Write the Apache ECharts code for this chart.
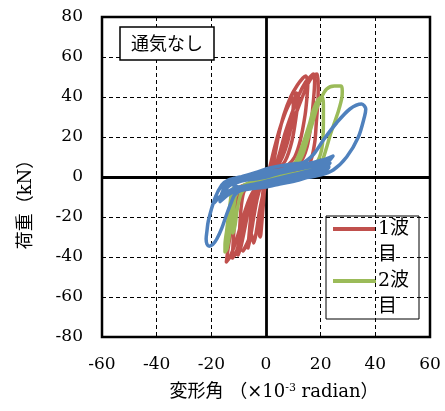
<!DOCTYPE html>
<html>
<head>
<meta charset="utf-8">
<script src="https://cdn.jsdelivr.net/npm/echarts@6/dist/echarts.min.js"></script>
<style>
html,body{margin:0;padding:0;background:#fff;}
#chart{width:445px;height:411px;}
</style>
</head>
<body>
<div id="chart"></div>
<script>
// ---- data ----
var xTicks = [-60, -40, -20, 0, 20, 40, 60];
var yTicks = [-80, -60, -40, -20, 0, 20, 40, 60, 80];
var seriesNames = ['1波目', '2波目', '3波目'];
var chartTitle = '通気なし';
var xAxisTitle = '変形角';
var yAxisTitle = '荷重（kN）';

// 1波目 (red) : deformation angle (x10^-3 rad), load (kN)
var wave1 = [
  [0,0],[1,3],[3,14],[5,24],[7,32],[9,38],[9.6,39.5],[10,36],[9.5,28],[8,18],[6,10],[3.5,4],[1,1],
  [-0.5,-2],[-1,-6],[-1.5,-13],[-2,-22],[-2.4,-29],[-2.1,-30],[-1.6,-24],[-1,-14],[-0.5,-6],[0.5,-1],
  [2,3],[3,9],[4.5,20],[6.5,31],[9,40],[11.5,46],[13.5,49.5],[14.5,50.5],[15.3,47],[15,40],[14.3,31],[12.5,18],[10.5,10],[8,6],[4,2.5],[1,0],
  [-2,-2],[-3.5,-4],[-4.5,-9],[-5.5,-19],[-6.2,-29],[-6.6,-35.5],[-5.8,-31],[-4.6,-21],[-3.4,-12],[-2,-5],[0,-1],
  [3,4],[5,12],[7,22],[9.5,32],[12,41],[14.5,47.5],[16.5,50.5],[17.3,51.5],[17.8,48],[17.4,39],[16.5,27],[15,15],[12.5,7],[9,3.5],[5,1.5],[1,0],
  [-3,-2.5],[-6,-4.5],[-8,-7],[-9,-14],[-9.6,-25],[-10,-34],[-10.2,-39],[-9.2,-35],[-7.8,-26],[-6.3,-16],[-4.5,-8],[-2.5,-3],[0,-0.5],
  [4,5],[7,16],[10,28],[13,39],[15.5,47],[17.5,51],[18.7,51.5],[19.1,46],[19,38],[18.4,27],[17.8,17],[16,7],[12,3],[7,1.5],[2,0],
  [-2,-2],[-6,-3.5],[-9.5,-5],[-11,-10],[-12,-18],[-13,-28],[-13.9,-36],[-14.5,-42.5],[-13.2,-40],[-11.2,-33],[-9.2,-24],[-7.2,-15],[-5,-8],[-2,-3],[0,0],
  [3,4],[6,15],[9,27],[11.2,42],[11.8,40],[11,30],[9.5,18],[7,8],[3,2],[0,-1],
  [-3,-3],[-7,-5],[-10,-7],[-11,-16],[-11.8,-28],[-12.3,-40.5],[-11,-38],[-9.5,-31],[-8,-22],[-6,-12],[-3.5,-5],[-1,-1.5],
  [-2,-4],[-4,-12],[-5,-22],[-6,-30],[-8.4,-37],[-7,-34],[-5.5,-28],[-4.5,-33],[-3.5,-27],[-2.5,-18],[-1.2,-9],[0,-2],[0,0]
];

// 2波目 (green)
var wave2 = [
  [0,0],[4,1.5],[8,3],[11,8],[13.6,17],[16,27],[17.3,33.5],[19,38.5],[20.5,40],[21,36],[21,28],[20.4,14],[18,6],[14,3],[9,1.5],[4,0],
  [0,-1.5],[-4,-3],[-8,-4.5],[-10.5,-6],[-11.5,-12],[-12,-20],[-12.3,-26],[-12,-28],[-11.3,-24],[-10.5,-16],[-9,-8],[-6,-3.5],[-2,-1],
  [2,1],[6,2.5],[10,4],[13,10],[15,18],[17,27],[18.5,34],[20,39],[22.2,44],[25,45.5],[27.5,45.5],[27.9,43],[27.8,40],[26.5,33],[25,27],[23.5,21],[22,14],[20.5,8],[18,4],[14,2],[10,1],[5,-0.5],
  [0,-2],[-5,-3.5],[-9,-5],[-12,-5.7],[-13.2,-14],[-14.4,-27],[-15,-34],[-15,-37.5],[-14.3,-36],[-13.5,-30],[-12.5,-20],[-11.3,-10],[-9,-5],[-5,-2],[0,0]
];

// 3波目 (blue)
var wave3 = [
  [0,0],[5,2],[10,3.5],[15,5],[19,6.5],[22.2,8.5],[22,6.5],[19,3.5],[14,1.5],[8,-0.5],[3,-2],
  [0,-3],[-5,-4],[-9,-5],[-12,-6],[-14,-7.5],[-15.6,-9.8],[-15.5,-7.5],[-14,-3],[-11,-0.5],[-7,0.5],[-3,1.5],[0,2.5],
  [5,3.5],[10,5],[15,6],[20,7],[23.4,7],[22,5],[18,2.5],[12,0],[6,-2],
  [0,-4],[-6,-5.5],[-11,-7],[-14,-9],[-16.8,-12.3],[-16.5,-9.5],[-15,-5],[-12,-1.5],[-8,0.5],[-3,2.5],[0,4],[5,5.5],[10,6.5],
  [14,7.5],[17.5,11.5],[21,18.5],[25.8,27],[30.7,34],[35,36.5],[36.5,34],[36,30],[33.8,20],[29.5,10],[24.6,3.5],[19.8,1],[12,-1],[5,-3],
  [0,-4.5],[-5,-5.5],[-9,-6.5],[-11.5,-9],[-12.5,-12],[-14.5,-19],[-16.2,-25.7],[-18,-31],[-19.5,-33.8],[-20.8,-34.6],[-21.6,-33.6],[-21.9,-31],[-21.6,-27],[-21.1,-22],[-18.7,-10.7],[-16.2,-4],[-13.8,-1.5],[-9,0],[-4,1.5],[0,2],
  [4,3],[8,4.5],[13,6],[18,7.5],[22,9],[24.5,10.5],[23,8],[19,4.5],[14,2.5],[8,0.5],[2,-1.5],
  [-4,-3.5],[-9,-5],[-13,-7],[-17,-10],[-19,-13],[-18.5,-10],[-17,-6],[-14,-2.5],[-10,-0.5],[-5,1],[0,2],
  [6,3],[12,5],[18,6],[22,6.5],[23,5],[20,2],[12,-1.5],[5,-3.5],
  [0,-5],[-6,-6],[-12,-7.5],[-15,-9],[-14,-5],[-10,-2],[-5,-0.5],[0,1],
  [6,2.5],[12,4],[18,5.5],[21,6],[19,3.5],[12,1],[6,-1],
  [0,-2.5],[-6,-4],[-10,-5],[-12,-4],[-9,-2],[-4,-1],[0,0]
];

// ---- styles ----
var RED = '#C0504D', GREEN = '#9BBB59', BLUE = '#4F81BD';
var SERIF = "'DejaVu Serif','Noto Sans CJK JP',serif";
var CJK = "'Noto Sans CJK JP','DejaVu Serif',sans-serif";

var chart = echarts.init(document.getElementById('chart'), null, {renderer: 'canvas'});

function axisCommon(ticks) {
  return {
    type: 'value',
    min: ticks[0],
    max: ticks[ticks.length - 1],
    interval: ticks[1] - ticks[0],
    axisLine: {show: false},
    axisTick: {show: false},
    axisLabel: {color: '#000', fontFamily: SERIF, fontSize: 17, margin: 19},
    splitLine: {show: true, lineStyle: {color: '#000', width: 1, type: [4, 3]}}
  };
}

function lineSeries(name, data, color, z) {
  return {
    name: name,
    type: 'line',
    data: data,
    showSymbol: false,
    symbol: 'none',
    smooth: 0.3,
    z: z,
    lineStyle: {color: color, width: 3.5, cap: 'round', join: 'round'},
    itemStyle: {color: color},
    emphasis: {disabled: true},
    animation: false
  };
}

var option = {
  animation: false,
  backgroundColor: '#fff',
  title: {
    text: chartTitle,
    left: 120,
    top: 27,
    padding: [6, 11, 6, 11],
    borderColor: '#000',
    borderWidth: 1.5,
    backgroundColor: '#fff',
    textStyle: {fontFamily: CJK, fontSize: 18, fontWeight: 'normal', color: '#000', lineHeight: 21},
    z: 20
  },
  grid: {
    left: 102, right: 15, top: 17, bottom: 74,
    show: true, borderColor: '#000', borderWidth: 2.5, backgroundColor: 'transparent'
  },
  xAxis: axisCommon(xTicks),
  yAxis: axisCommon(yTicks),
  series: [
    {
      type: 'line', data: [], z: 1, silent: true,
      markLine: {
        z: 1, silent: true, symbol: 'none', animation: false,
        label: {show: false},
        lineStyle: {color: '#000', width: 2.8, type: 'solid'},
        emphasis: {disabled: true},
        data: [{xAxis: 0}, {yAxis: 0}]
      }
    },
    lineSeries(seriesNames[0], wave1, RED, 3),
    lineSeries(seriesNames[1], wave2, GREEN, 4),
    lineSeries(seriesNames[2], wave3, BLUE, 5)
  ],
  graphic: [
    // y axis name
    {
      type: 'text', x: 26, y: 200, rotation: Math.PI / 2,
      style: {text: yAxisTitle, fill: '#000', fontSize: 18, fontFamily: SERIF, align: 'center', verticalAlign: 'middle'}
    },
    // x axis name
    {
      type: 'text', x: 274, y: 392,
      style: {
        text: xAxisTitle + ' （×10{sup|-3} radian）',
        fill: '#000', fontSize: 18, fontFamily: SERIF, align: 'center', verticalAlign: 'middle',
        rich: {sup: {fontSize: 11, fontFamily: SERIF, fill: '#000', verticalAlign: 'top', padding: [0, 0, 8, 0]}}
      }
    },
    // legend box (first two series, text wrapping as in the reference)
    {
      type: 'group', z: 30,
      children: [
        {type: 'rect', shape: {x: 326, y: 216, width: 93, height: 103}, style: {fill: '#fff', stroke: '#000', lineWidth: 1}},
        {type: 'line', shape: {x1: 333, y1: 229, x2: 376, y2: 229}, style: {stroke: RED, lineWidth: 4}},
        {type: 'text', x: 378, y: 216, style: {text: seriesNames[0].slice(0, 2) + '\n' + seriesNames[0].slice(2), fill: '#000', fontSize: 19, lineHeight: 26, fontFamily: SERIF, verticalAlign: 'top'}},
        {type: 'line', shape: {x1: 333, y1: 281, x2: 376, y2: 281}, style: {stroke: GREEN, lineWidth: 4}},
        {type: 'text', x: 378, y: 268, style: {text: seriesNames[1].slice(0, 2) + '\n' + seriesNames[1].slice(2), fill: '#000', fontSize: 19, lineHeight: 26, fontFamily: SERIF, verticalAlign: 'top'}}
      ]
    }
  ]
};
chart.setOption(option);
</script>
</body>
</html>
